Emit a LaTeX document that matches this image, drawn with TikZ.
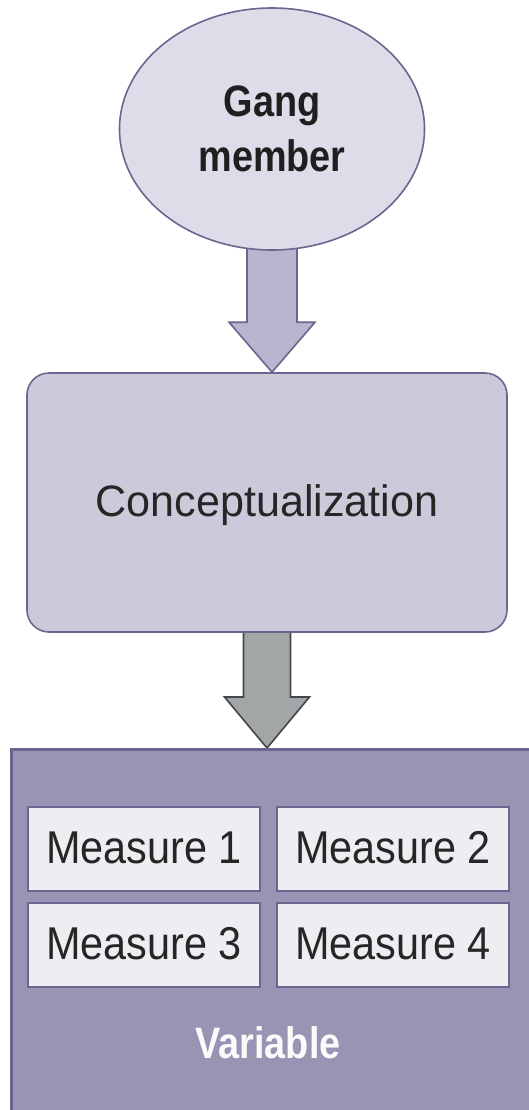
\documentclass[tikz,border=0pt]{standalone}
\usepackage{fontspec}
\setmainfont{Liberation Sans}
\newfontfamily\headfont{Liberation Sans}[FakeStretch=0.86]
\newfontfamily\measfont{Liberation Sans}[FakeStretch=0.9]
\newfontfamily\conceptfont{Liberation Sans}[FakeStretch=0.98]
\usetikzlibrary{shapes.geometric,calc}

\definecolor{outline}{HTML}{6A6690}
\definecolor{ellfill}{HTML}{DEDCE8}
\definecolor{boxfill}{HTML}{CDC9DB}
\definecolor{arrowfill}{HTML}{B9B5CF}
\definecolor{varfill}{HTML}{9A94B4}
\definecolor{measfill}{HTML}{EEEDF2}
\definecolor{greyarrow}{HTML}{A3A6A6}
\definecolor{greyline}{HTML}{45454D}
\definecolor{inktext}{HTML}{262626}

\pgfdeclarelayer{bg}
\pgfsetlayers{bg,main}

\tikzset{
  ovalnode/.style={ellipse, draw=outline, line width=1.6pt, fill=ellfill,
    minimum width=305pt, minimum height=242pt, inner sep=0pt, align=center,
    font=\headfont\bfseries\fontsize{44}{55}\selectfont, text=black!88},
  conceptbox/.style={draw=outline, line width=1.6pt, fill=boxfill,
    rounded corners=22pt, minimum width=480pt, minimum height=259pt,
    text height=31pt, text depth=4pt, inner sep=0pt,
    font=\conceptfont\fontsize{44}{50}\selectfont, text=inktext},
  varbox/.style={draw=outline, line width=2.6pt, fill=varfill,
    minimum width=540pt, minimum height=400pt, inner sep=0pt},
  measbox/.style={draw=outline, line width=1.8pt, fill=measfill,
    minimum width=232pt, minimum height=84pt, inner sep=0pt,
    text height=33pt, text depth=5pt,
    font=\measfont\fontsize{46}{50}\selectfont, text=inktext},
  varlabel/.style={anchor=base, inner sep=0pt,
    font=\headfont\bfseries\fontsize{44}{50}\selectfont, text=white!96!varfill},
  liftarrow/.style={draw=outline, line width=1.6pt, fill=arrowfill, line join=miter},
  greyblock/.style={draw=greyline, line width=1.6pt, fill=greyarrow, line join=miter}
}

\begin{document}
\begin{tikzpicture}[x=1pt,y=-1pt]
  \useasboundingbox (0,0) rectangle (529,1110);
  \clip (0,0) rectangle (529,1110);

  % concept, its definition and its variable
  \node[ovalnode] (gang) at (272,129) {Gang\\member};
  \node[conceptbox] (concept) at (267,502.5) {Conceptualization};
  \node[varbox, anchor=north west] (var) at (10,748) {};

  % the four measures of the variable
  \node[measbox] (m1) at (144,849) {Measure 1};
  \node[measbox] (m2) at (393,849) {Measure 2};
  \node[measbox] (m3) at (144,945) {Measure 3};
  \node[measbox] (m4) at (393,945) {Measure 4};
  \node[varlabel] (vlabel) at (268,1058) {Variable};

  % block arrows, drawn behind the shapes they join
  \coordinate (tipA) at (gang.south |- concept.north);
  \coordinate (tipB) at (concept.south |- var.north);
  \begin{pgfonlayer}{bg}
    \draw[liftarrow]
      ($(gang.south)+(-25,-8)$) -- ($(tipA)+(-25,-50)$) -- ($(tipA)+(-43,-50)$)
      -- (tipA) -- ($(tipA)+(43,-50)$) -- ($(tipA)+(25,-50)$)
      -- ($(gang.south)+(25,-8)$) -- cycle;
    \draw[greyblock]
      ($(concept.south)+(-23.5,-8)$) -- ($(tipB)+(-23.5,-51)$) -- ($(tipB)+(-42.5,-51)$)
      -- (tipB) -- ($(tipB)+(42.5,-51)$) -- ($(tipB)+(23.5,-51)$)
      -- ($(concept.south)+(23.5,-8)$) -- cycle;
  \end{pgfonlayer}
\end{tikzpicture}
\end{document}
